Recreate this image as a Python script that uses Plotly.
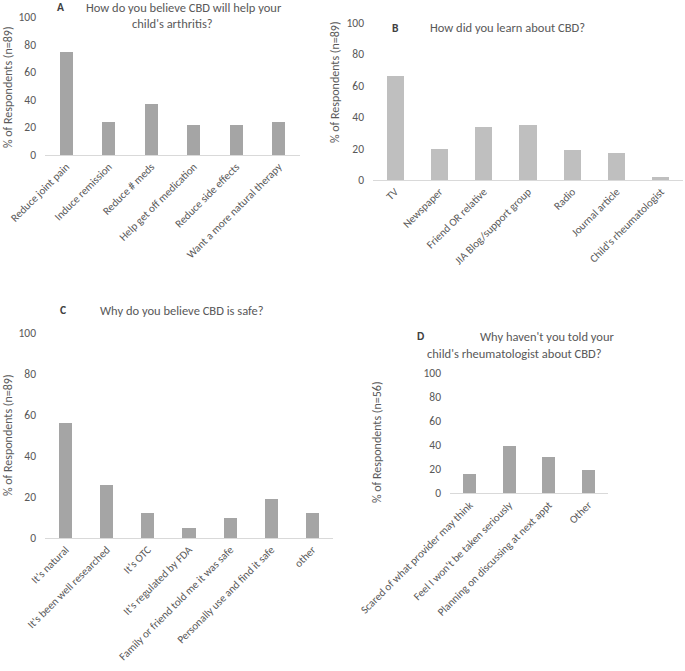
import plotly.graph_objects as go

W, H = 685, 671

# ---- Data ----
a_categories = ["Reduce joint pain", "Induce remission", "Reduce # meds",
                "Help get off medication", "Reduce side effects", "Want a more natural therapy"]
a_values = [75, 24, 37, 22, 22, 24]

b_categories = ["TV", "Newspaper", "Friend OR relative", "JIA Blog/support group",
                "Radio", "Journal article", "Child's rheumatologist"]
b_values = [66, 20, 34, 35, 19, 17, 2]

c_categories = ["It's natural", "It's been well researched", "It's OTC", "It's regulated by FDA",
                "Family or friend told me it was safe", "Personally use and find it safe", "other"]
c_values = [56, 26, 12, 5, 10, 19, 12]

d_categories = ["Scared of what provider may think", "Feel I won't be taken seriously",
                "Planning on discussing at next appt", "Other"]
d_values = [16, 39, 30, 19]

y_ticks = [0, 20, 40, 60, 80, 100]

FONT = "Carlito, Lato, sans-serif"
TXT = "#595959"

def px_x(p):
    return p / W

def px_y(p):
    return 1 - p / H

fig = go.Figure()

panels = [
    # categories, values, color, width, x0, x1, y_zero, y_100
    (a_categories, a_values, "#a5a5a5", 0.31, 45, 300, 155, 17),
    (b_categories, b_values, "#bfbfbf", 0.39, 373, 683, 180, 23),
    (c_categories, c_values, "#a5a5a5", 0.32, 45, 333, 538, 333),
    (d_categories, d_values, "#a5a5a5", 0.32, 450, 608, 493.3, 372.7),
]

layout_axes = {}
for i, (cats, vals, col, bw, x0, x1, y0, y1) in enumerate(panels, start=1):
    xa = "x" if i == 1 else f"x{i}"
    ya = "y" if i == 1 else f"y{i}"
    fig.add_trace(go.Bar(x=cats, y=vals, marker=dict(color=col, line=dict(width=0)),
                         width=bw, xaxis=xa, yaxis=ya, showlegend=False))
    xk = "xaxis" if i == 1 else f"xaxis{i}"
    yk = "yaxis" if i == 1 else f"yaxis{i}"
    layout_axes[xk] = dict(domain=[px_x(x0), px_x(x1)], anchor=ya, automargin=False,
                           showline=True, linecolor="#d9d9d9", linewidth=1,
                           showgrid=False, zeroline=False, ticks="",
                           tickangle=-45, tickfont=dict(family=FONT, size=11, color=TXT),
                           fixedrange=True)
    layout_axes[yk] = dict(domain=[px_y(y0), px_y(y1)], anchor=xa, range=[0, 100],
                           automargin=False,
                           tickvals=y_ticks, showline=False, showgrid=False, zeroline=False,
                           ticks="", ticklabelstandoff=8,
                           tickfont=dict(family=FONT, size=11.5, color=TXT), fixedrange=True)

fig.update_layout(**layout_axes)

ann = []
def txt(x, y, s, size=12, bold=False, angle=0, anchor="left", color=TXT):
    ann.append(dict(x=px_x(x), y=px_y(y), xref="paper", yref="paper", text=(f"<b>{s}</b>" if bold else s),
                    showarrow=False, xanchor=anchor, yanchor="middle", textangle=angle,
                    font=dict(family=FONT, size=size, color=color)))

# titles
txt(55, 7, "A", bold=True, size=11.5, color="#404040")
txt(84, 7, "How do you believe CBD will help your", size=12.5)
txt(172, 23, "child's arthritis?", size=12.5, anchor="center")
txt(390, 28, "B", bold=True, size=11.5, color="#404040")
txt(428, 28, "How did you learn about CBD?", size=12.5)
txt(58, 310, "C", bold=True, size=11.5, color="#404040")
txt(98, 310, "Why do you believe CBD is safe?", size=12.5)
txt(415, 336, "D", bold=True, size=11.5, color="#404040")
txt(478, 336, "Why haven't you told your", size=12.5)
txt(425, 353, "child's rheumatologist about CBD?", size=12.5)

# y-axis titles
txt(8, 87, "% of Respondents (n=89)", size=12, angle=-90, anchor="center")
txt(335, 82, "% of Respondents (n=89)", size=12, angle=-90, anchor="center")
txt(8, 435, "% of Respondents (n=89)", size=12, angle=-90, anchor="center")
txt(377, 442, "% of Respondents (n=56)", size=12, angle=-90, anchor="center")

fig.update_layout(width=W, height=H, margin=dict(l=0, r=0, t=0, b=0, autoexpand=False),
                  paper_bgcolor="white", plot_bgcolor="white", annotations=ann,
                  font=dict(family=FONT, color=TXT), bargap=0)

fig.write_html("out.html", config={"displayModeBar": False, "staticPlot": True},
               post_script="document.body.style.margin='0';document.body.style.overflow='hidden';")
